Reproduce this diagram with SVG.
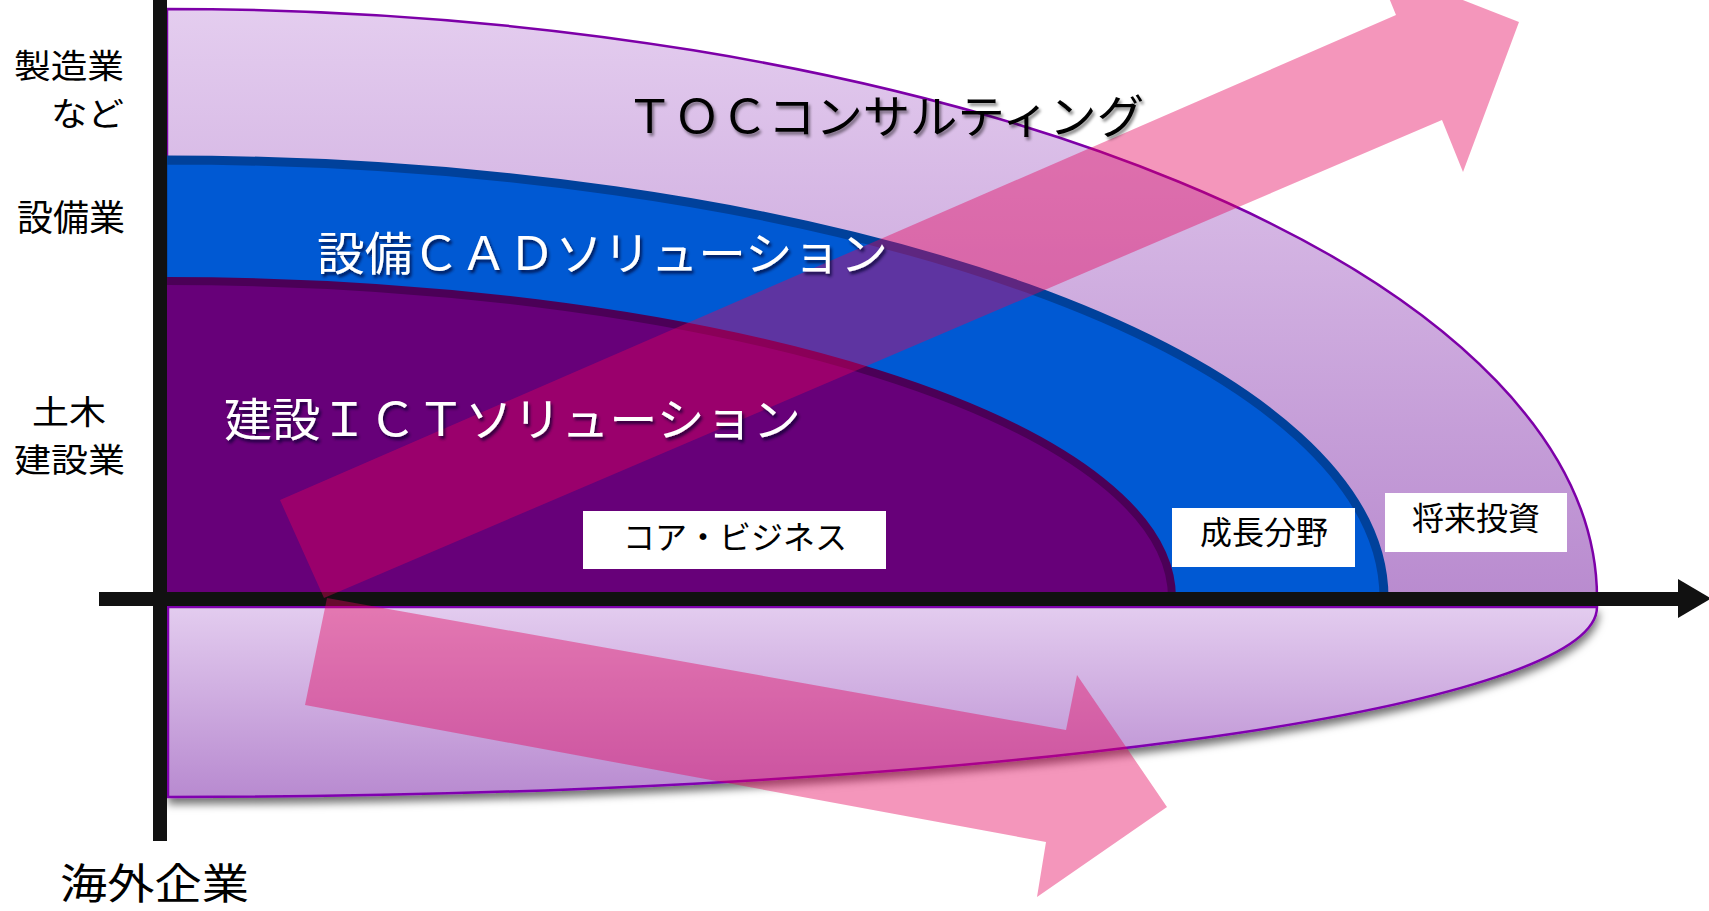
<svg xmlns="http://www.w3.org/2000/svg" width="1709" height="911" viewBox="0 0 1709 911">
  <defs>
    <linearGradient id="gUp" x1="0" y1="9" x2="0" y2="598" gradientUnits="userSpaceOnUse">
      <stop offset="0" stop-color="#e4cdef"/>
      <stop offset="1" stop-color="#b98bcf"/>
    </linearGradient>
    <linearGradient id="gLow" x1="0" y1="607" x2="0" y2="797" gradientUnits="userSpaceOnUse">
      <stop offset="0" stop-color="#e3ccef"/>
      <stop offset="1" stop-color="#b88ad0"/>
    </linearGradient>
    <filter id="shLow" x="-5%" y="-10%" width="110%" height="130%">
      <feDropShadow dx="1" dy="6" stdDeviation="4" flood-color="#000" flood-opacity="0.55"/>
    </filter>
    <filter id="shDark" x="-5%" y="-20%" width="110%" height="150%">
      <feDropShadow dx="2" dy="3" stdDeviation="1.5" flood-color="#000" flood-opacity="0.45"/>
    </filter>
    <filter id="shLight" x="-5%" y="-20%" width="110%" height="150%">
      <feDropShadow dx="2" dy="3" stdDeviation="1.5" flood-color="#00002a" flood-opacity="0.7"/>
    </filter>
    <style>
      .lbl { font-family: "Noto Sans CJK JP", "Noto Sans CJK SC", sans-serif; fill: #000; }
      .axis { font-size: 36px; }
      .axs { font-size: 33px; }
      .big { font-size: 46px; }
      .box { fill: #ffffff; }
      .boxt { font-size: 32px; text-anchor: middle; }
      .arrow { fill: #e4005a; fill-opacity: 0.41; }
    </style>
  </defs>

  <g id="toc-upper">
    <path d="M167,598 L167,9 A1430,589 0 0 1 1597,598 Z" fill="url(#gUp)" stroke="#7d00a8" stroke-width="2.5"/>
  </g>
  <g id="toc-lower" filter="url(#shLow)">
    <path d="M168,607 L1597,607 A1429,190 0 0 1 168,797 Z" fill="url(#gLow)" stroke="#8000b0" stroke-width="2.5"/>
  </g>
  <g id="cad">
    <path d="M163,598 L163,160 L167,160 A1217,438 0 0 1 1384,598 Z" fill="#0059d3" stroke="#00419b" stroke-width="9"/>
  </g>
  <g id="ict">
    <path d="M163,598 L163,281 L167,281 A1005,317 0 0 1 1172,598 Z" fill="#670079" stroke="#4b0057" stroke-width="8"/>
  </g>

  <g id="axes">
    <rect x="153" y="0" width="14" height="841" fill="#111111"/>
    <rect x="99" y="592" width="1582" height="14" fill="#111111"/>
    <polygon points="1678,579 1711,598.5 1678,618" fill="#111111"/>
  </g>

  <g id="connectors">
    <polygon class="arrow" points="280,500 1396,15 1376,-34 1519,22 1463,172 1442,120 324,598"/>
    <polygon class="arrow" points="327,598 1066,730 1077,675 1167,807 1037,897 1046,842 305,705"/>
  </g>

  <g id="label-toc" filter="url(#shDark)">
    <text class="lbl big" x="626" y="133" textLength="518" lengthAdjust="spacingAndGlyphs">ＴＯＣコンサルティング</text>
  </g>
  <g id="label-cad" filter="url(#shLight)">
    <text class="lbl big" x="317" y="270" textLength="571" lengthAdjust="spacingAndGlyphs" style="fill:#fff">設備ＣＡＤソリューション</text>
  </g>
  <g id="label-ict" filter="url(#shLight)">
    <text class="lbl big" x="224" y="436" textLength="577" lengthAdjust="spacingAndGlyphs" style="fill:#fff">建設ＩＣＴソリューション</text>
  </g>

  <g id="box-core">
    <rect class="box" x="583" y="511" width="303" height="58"/>
    <text class="lbl boxt" x="735" y="549">コア・ビジネス</text>
  </g>
  <g id="box-growth">
    <rect class="box" x="1172" y="508" width="183" height="59"/>
    <text class="lbl boxt" x="1264" y="544">成長分野</text>
  </g>
  <g id="box-future">
    <rect class="box" x="1385" y="493" width="182" height="59"/>
    <text class="lbl boxt" x="1476" y="530">将来投資</text>
  </g>

  <g id="y-labels">
    <text class="lbl axs" x="14" y="78" textLength="110" lengthAdjust="spacingAndGlyphs">製造業</text>
    <text class="lbl axs" x="51" y="126" textLength="73" lengthAdjust="spacingAndGlyphs">など</text>
    <text class="lbl axis" x="125" y="231" text-anchor="end">設備業</text>
    <text class="lbl axs" x="32" y="424" textLength="74" lengthAdjust="spacingAndGlyphs">土木</text>
    <text class="lbl axs" x="14" y="472" textLength="111" lengthAdjust="spacingAndGlyphs">建設業</text>
    <text class="lbl" x="60" y="899" style="font-size:42px" textLength="189" lengthAdjust="spacingAndGlyphs">海外企業</text>
  </g>
</svg>
